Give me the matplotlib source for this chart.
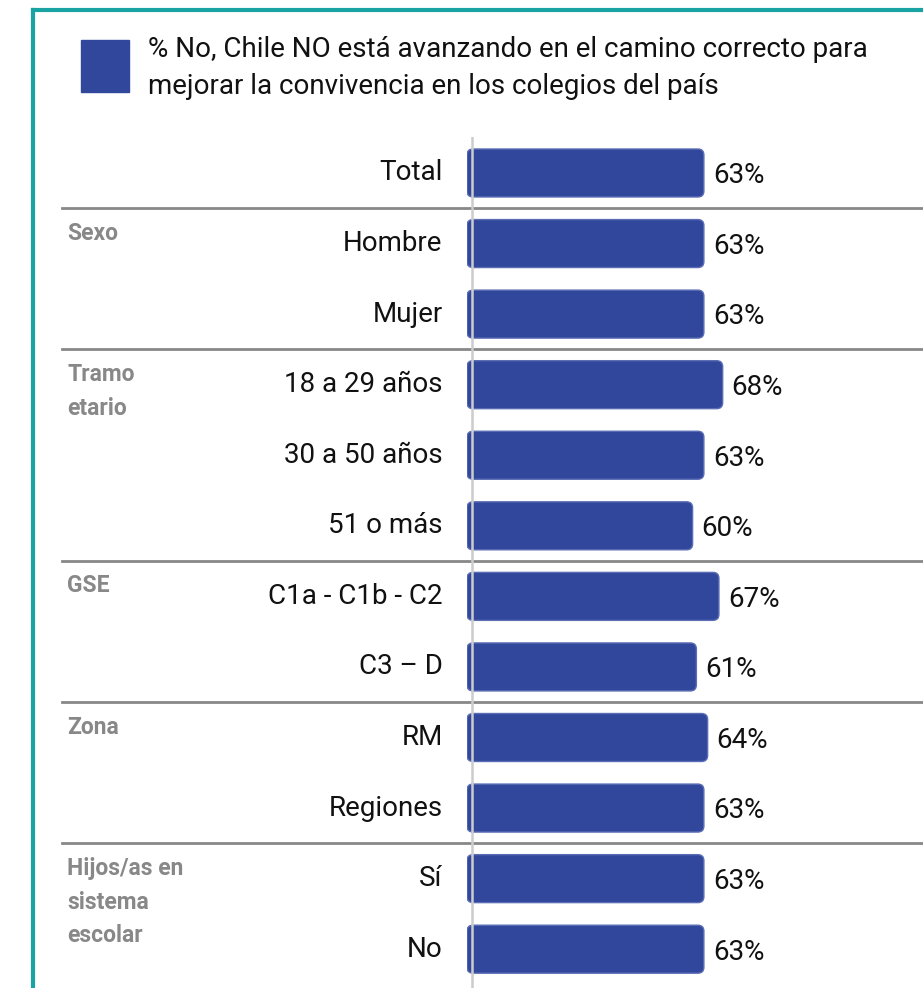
import matplotlib
matplotlib.use("Agg")
import matplotlib.pyplot as plt
from matplotlib.patches import FancyBboxPatch, Rectangle
from matplotlib.lines import Line2D
import matplotlib.transforms as mtransforms
from matplotlib import font_manager

# data
categories = ["Total", "Hombre", "Mujer", "18 a 29 años", "30 a 50 años", "51 o más",
              "C1a - C1b - C2", "C3 – D", "RM", "Regiones", "Sí", "No"]
values = [63, 63, 63, 68, 63, 60, 67, 61, 64, 63, 63, 63]
groups = [("Sexo", 1), ("Tramo\netario", 3), ("GSE", 6), ("Zona", 8),
          ("Hijos/as en\nsistema\nescolar", 10)]
separators = [0.5, 2.5, 5.5, 7.5, 9.5]
legend_text = "% No, Chile NO está avanzando en el camino correcto para\nmejorar la convivencia en los colegios del país"

names = {f.name for f in font_manager.fontManager.ttflist}
font = "Liberation Sans Narrow" if "Liberation Sans Narrow" in names else "Roboto"
plt.rcParams["font.family"] = [font, "DejaVu Sans"]

W, H = 923, 988
bar_color = "#31479b"
teal = "#1aa3a3"

fig = plt.figure(figsize=(W / 100, H / 100), dpi=100)

# teal frame (left and top)
fig.add_artist(Line2D([33 / W, 33 / W], [0, 1 - 10 / H], color=teal, lw=3))
fig.add_artist(Line2D([33 / W, 1], [1 - 10 / H, 1 - 10 / H], color=teal, lw=3))

# legend
fig.add_artist(Rectangle((81 / W, 1 - 92 / H), 48 / W, 52 / H, color=bar_color,
                         transform=fig.transFigure))
fig.text(148 / W, 1 - 68 / H, legend_text, fontsize=20, va="center", ha="left",
         linespacing=1.45, color="#111111")

x0 = 467
px = 3.76
ax = fig.add_axes([x0 / W, 0, 1 - x0 / W, 1 - 137 / H])
ax.set_xlim(0, (W - x0) / px)
ax.set_ylim(11.55, -0.51)
ax.axis("off")

bh = 0.68
for i, (c, v) in enumerate(zip(categories, values)):
    p = FancyBboxPatch((0, i - bh / 2), v, bh,
                       boxstyle="round,pad=0,rounding_size=1.6",
                       mutation_aspect=0.053, facecolor=bar_color,
                       edgecolor="#5a6db5", lw=1)
    ax.add_patch(p)
    ax.text(v + 2.4, i + 0.04, f"{v}%", fontsize=20, va="center", ha="left",
            color="#111111")
    ax.text(-6.5, i, c, fontsize=20, va="center", ha="right", color="#111111")

# vertical axis line
ax.axvline(1.3, color="#cccccc", lw=1.8, zorder=5)

# separators
tr = mtransforms.blended_transform_factory(fig.transFigure, ax.transData)
for s in separators:
    ax.add_artist(Line2D([62 / W, 1], [s, s], transform=tr, color="#888888",
                         lw=2, clip_on=False))

# group labels
for g, r in groups:
    ax.text(67 / W, r - 0.31, g, transform=tr, fontsize=16.5, fontweight="bold",
            color="#888888", va="top", ha="left", linespacing=1.6)

fig.savefig("out.png", dpi=100)
